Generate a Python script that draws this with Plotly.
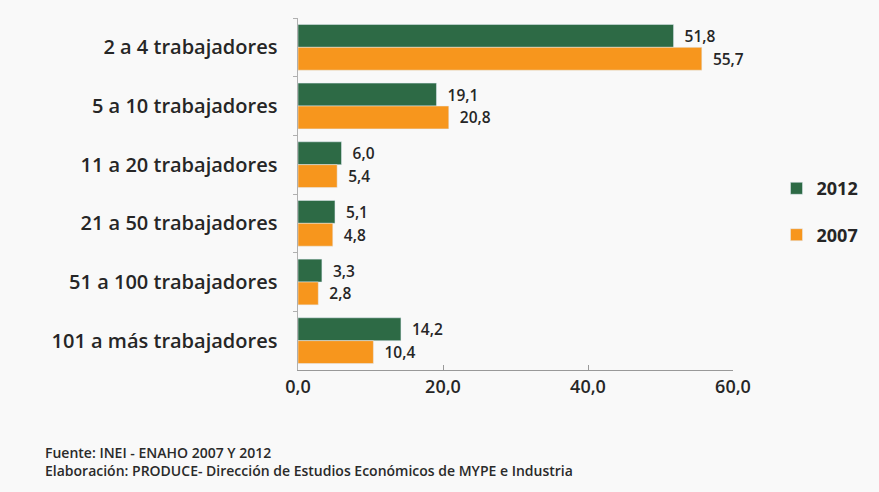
import plotly.graph_objects as go

categories = ["2 a 4 trabajadores", "5 a 10 trabajadores", "11 a 20 trabajadores",
              "21 a 50 trabajadores", "51 a 100 trabajadores", "101 a más trabajadores"]
values_2012 = [51.8, 19.1, 6.0, 5.1, 3.3, 14.2]
values_2007 = [55.7, 20.8, 5.4, 4.8, 2.8, 10.4]
tick_vals = [0, 20, 40, 60]

green = "#2d6a45"
orange = "#f7961d"
font_family = "'Open Sans', Lato, sans-serif"
txt = "#262626"

fig = go.Figure()
fig.add_trace(go.Bar(
    y=categories, x=values_2012, orientation="h", name="2012",
    marker=dict(color=green), legendgroup="a",
    texttemplate="\u00a0\u00a0%{x:.1f}", textposition="outside",
    textfont=dict(size=15.5, color=txt, family=font_family, weight=600), cliponaxis=False))
fig.add_trace(go.Bar(
    y=categories, x=values_2007, orientation="h", name="2007",
    marker=dict(color=orange), legendgroup="b",
    texttemplate="\u00a0\u00a0%{x:.1f}", textposition="outside",
    textfont=dict(size=15.5, color=txt, family=font_family, weight=600), cliponaxis=False))

fig.update_layout(
    width=879, height=492,
    margin=dict(l=298, r=146, t=18, b=122),
    paper_bgcolor="#f9f9f9", plot_bgcolor="#f9f9f9",
    barmode="group", bargap=0.22, bargroupgap=0.0,
    separators=",.",
    font=dict(family=font_family, color=txt),
    showlegend=True,
    legend=dict(x=1.1, y=0.45, xanchor="left", yanchor="middle",
                font=dict(size=18, color=txt, weight=700), tracegroupgap=20,
                traceorder="grouped", bgcolor="rgba(0,0,0,0)",
                itemwidth=30),
    xaxis=dict(range=[0, 60], tickvals=tick_vals, tickformat=".1f",
               showgrid=False, zeroline=False, showline=True, linecolor="#999999",
               ticks="inside", tickcolor="#999999", ticklen=5,
               tickfont=dict(size=18, color=txt, weight=600)),
    yaxis=dict(autorange="reversed", showgrid=False, showline=True, linecolor="#b0b0b0",
               ticks="outside", tickson="boundaries", tickcolor="#b0b0b0", ticklen=4,
               tickfont=dict(size=20, color=txt, weight=600), ticksuffix="   "),
)

foot_x = -298/435 + 43/435
fig.add_annotation(text="Fuente: INEI - ENAHO 2007 Y 2012", xref="paper", yref="paper",
                   x=foot_x, y=-82/352, xanchor="left", yanchor="middle",
                   showarrow=False, font=dict(size=14, color="#2a2a2a", family="Open Sans", weight=600))
fig.add_annotation(text="Elaboración: PRODUCE- Dirección de Estudios Económicos de MYPE e Industria",
                   xref="paper", yref="paper",
                   x=foot_x, y=-100/352, xanchor="left", yanchor="middle",
                   showarrow=False, font=dict(size=14, color="#2a2a2a", family="Open Sans", weight=600))

fig.write_html("out.html")
